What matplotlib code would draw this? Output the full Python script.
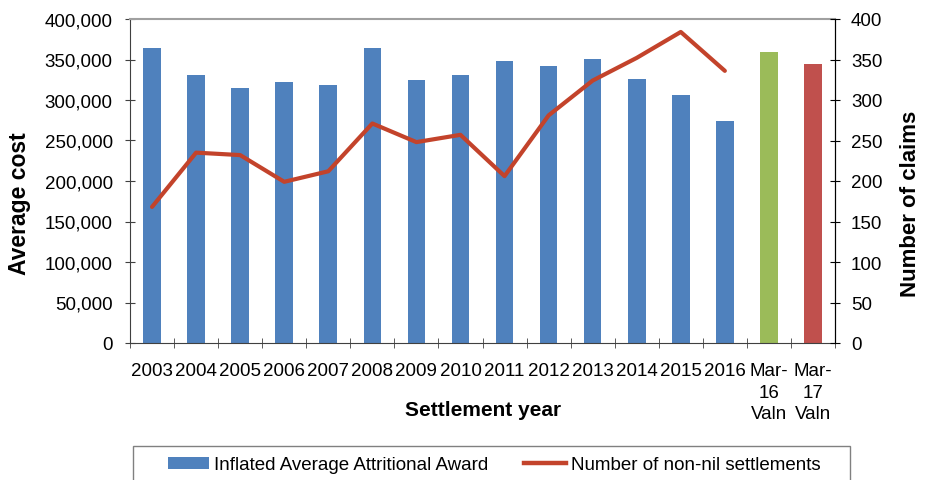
import matplotlib
matplotlib.use('Agg')
import matplotlib.pyplot as plt
from matplotlib.lines import Line2D
from matplotlib.patches import Patch, Rectangle
from matplotlib.ticker import FuncFormatter, MultipleLocator
import numpy as np

plt.rcParams['font.family'] = ['Liberation Sans', 'DejaVu Sans']

years = ['2003', '2004', '2005', '2006', '2007', '2008', '2009', '2010',
         '2011', '2012', '2013', '2014', '2015', '2016',
         'Mar-\n16\nValn', 'Mar-\n17\nValn']
avg_award = [364000, 331000, 314500, 322000, 319000, 364500, 325000, 331000,
             348000, 342000, 351000, 325500, 306000, 274000, 359500, 344500]
claims = [168, 235, 232, 199, 212, 271, 248, 257,
          206, 281, 324, 352, 384, 336]

BLUE = '#4F81BD'
GREEN = '#9BBB59'
RED_BAR = '#C0504D'
LINE_RED = '#C3432B'

bar_colors = [BLUE] * 14 + [GREEN, RED_BAR]

W, H = 925, 481
fig = plt.figure(figsize=(W / 100, H / 100), dpi=100)
# plot area in pixels: x 130..835, y 20..344
ax = fig.add_axes([130 / W, 1 - 344 / H, 705 / W, 324 / H])
ax2 = ax.twinx()

x = np.arange(len(years))
ax.bar(x, avg_award, width=0.4, color=bar_colors, zorder=2)
ax2.plot(x[:len(claims)], claims, color=LINE_RED, lw=3.0,
         solid_capstyle='round', solid_joinstyle='round', zorder=3)

ax.set_xlim(-0.5, len(years) - 0.5)
ax.set_ylim(0, 400000)
ax2.set_ylim(0, 400)
ax.yaxis.set_major_locator(MultipleLocator(50000))
ax2.yaxis.set_major_locator(MultipleLocator(50))
ax.yaxis.set_major_formatter(FuncFormatter(lambda v, p: f'{int(v):,}'))

ax.set_xticks(x)
ax.set_xticklabels(years, fontsize=13.5, linespacing=1.32, va='top')
ax.set_xticks(np.arange(-0.5, len(years)), minor=True)
ax.tick_params(axis='x', which='major', length=0, pad=14)
ax.tick_params(axis='x', which='minor', length=7, direction='inout', color='#404040')
ax.tick_params(axis='y', labelsize=13.5, length=7, direction='inout',
               color='#404040', pad=9)
ax2.tick_params(axis='y', labelsize=13.5, length=7, direction='inout',
                color='black', pad=8)

for side in ['left', 'bottom']:
    ax.spines[side].set_color('#404040')
ax.spines['top'].set_color('#A0A0A0')
ax.spines['top'].set_linewidth(1.5)
ax2.spines['top'].set_visible(False)
ax2.spines['right'].set_color('black')
ax2.spines['left'].set_visible(False)
ax2.spines['bottom'].set_visible(False)

# axis titles sit a little below the middle of the plot area
title_y = (344 - 204) / 324
ax.set_ylabel('Average cost', fontsize=16.5, fontweight='bold', va='center')
ax.yaxis.set_label_coords((19.5 - 130) / 705, title_y)
ax2.set_ylabel('Number of claims', fontsize=16, fontweight='bold', va='center')
ax2.yaxis.set_label_coords((910 - 130) / 705, title_y)
ax.set_xlabel('Settlement year', fontsize=15, fontweight='bold', va='center')
ax.xaxis.set_label_coords((483 - 130) / 705, (344 - 410) / 324)

# legend frame, running off the bottom edge
fig.add_artist(Rectangle((132.7 / W, 1 - 495 / H), (850 - 132.7) / W, 48 / H,
                         transform=fig.transFigure, facecolor='white',
                         edgecolor='#808080', lw=1.0, zorder=0))
handles = [Patch(facecolor=BLUE, edgecolor='none'),
           Line2D([0], [0], color=LINE_RED, lw=3.2)]
labels = ['Inflated Average Attritional Award', 'Number of non-nil settlements']
fig.legend(handles, labels, loc='center left', ncol=2,
           bbox_to_anchor=(168 / W, 1 - 466 / H), bbox_transform=fig.transFigure,
           fontsize=13.5, frameon=False, handlelength=2.2, handleheight=0.55,
           handletextpad=0.28, columnspacing=1.9, borderpad=0, borderaxespad=0)

fig.savefig('out.png', dpi=100)
